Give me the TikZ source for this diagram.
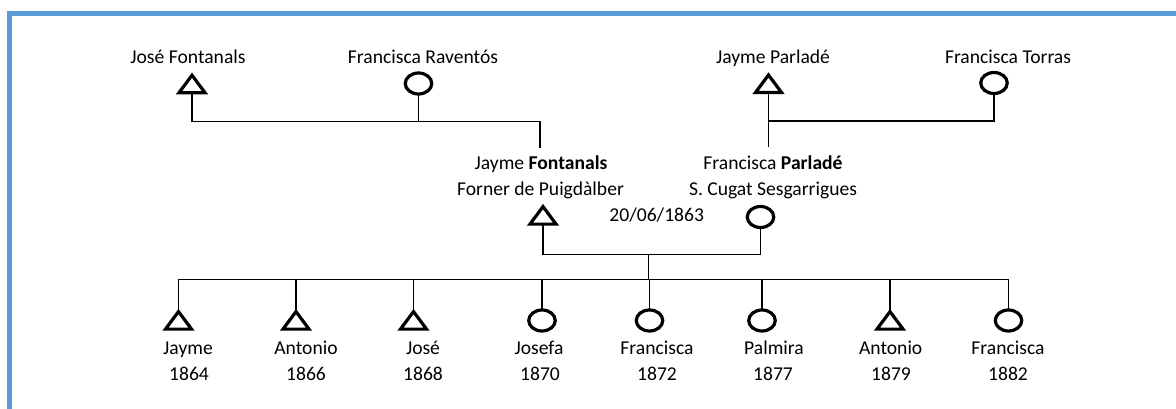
\documentclass[tikz,border=0pt]{standalone}
\usepackage{fontspec}
\setmainfont{Carlito}
\usetikzlibrary{shapes.geometric}
\definecolor{framecol}{HTML}{5B9BD5}
\tikzset{
  link/.style={line width=1.5pt, black},
  male/.style={rectangle, minimum width=26pt, minimum height=17.5pt, inner sep=0pt, outer sep=0pt},
  malemark/.style={draw, line width=3.2pt, line join=miter},
  female/.style={ellipse, minimum width=26.5pt, minimum height=21pt, draw, line width=3.2pt,
    inner sep=0pt, outer sep=0pt},
  lbl/.style={inner sep=0pt, anchor=base, font=\fontsize{19.6}{26}\selectfont},
  framebar/.style={line width=4.5pt, framecol},
}
\begin{document}
\begin{tikzpicture}[x=1pt, y=-1pt]
\useasboundingbox (0,0) rectangle (1176,409);
\draw[framebar] (9.5,415) -- (9.5,13.7) -- (1185,13.7);

% grandparents
\node[lbl] (tjf) at (188,63.5) {José Fontanals};
\node[lbl] (tfr) at (423,63.5) {Francisca Raventós};
\node[lbl] (tjp) at (773,63.5) {Jayme Parladé};
\node[lbl] (tft) at (1008,63.5) {Francisca Torras};
\node[male, anchor=south] (jf) at (192,92.7) {};
\node[female] (fr) at (418.5,83.5) {};
\node[male, anchor=south] (jp) at (768.5,92.5) {};
\node[female] (ft) at (994,83) {};

% parents
\node[lbl] (tja) at (541,169.5) {Jayme \textbf{Fontanals}};
\node[lbl] (tjb) at (540.5,195.5) {Forner de Puigdàlber};
\node[lbl] (tfa) at (773,169.5) {Francisca \textbf{Parladé}};
\node[lbl] (tfb) at (773,195.5) {S. Cugat Sesgarrigues};
\node[lbl] (tdate) at (656.7,221.7) {20/06/1863};
\node[male, anchor=south] (ja) at (543,224.1) {};
\node[female] (fa) at (760.5,217) {};

% children symbols
\node[male, anchor=south] (c1) at (178.5,329.1) {};
\node[male, anchor=south] (c2) at (296,329.1) {};
\node[male, anchor=south] (c3) at (413.5,329.1) {};
\node[female] (c4) at (542,320.5) {};
\node[female] (c5) at (649.5,320.5) {};
\node[female] (c6) at (762,320.5) {};
\node[male, anchor=south] (c7) at (890,329.1) {};
\node[female] (c8) at (1008.5,320.5) {};

% triangle outlines for the male symbols
\foreach \n in {jf,jp,ja,c1,c2,c3,c7}
  \draw[malemark] (\n.south west) -- (\n.south east) -- (\n.north) -- cycle;

% children labels
\node[lbl] (n1) at (188,354) {Jayme};      \node[lbl] (y1) at (189,380) {1864};
\node[lbl] (n2) at (306,354) {Antonio};    \node[lbl] (y2) at (306,380) {1866};
\node[lbl] (n3) at (423,354) {José};       \node[lbl] (y3) at (423,380) {1868};
\node[lbl] (n4) at (539,354) {Josefa};     \node[lbl] (y4) at (540,380) {1870};
\node[lbl] (n5) at (657,354) {Francisca};  \node[lbl] (y5) at (657,380) {1872};
\node[lbl] (n6) at (774,354) {Palmira};    \node[lbl] (y6) at (773,380) {1877};
\node[lbl] (n7) at (890.7,354) {Antonio};  \node[lbl] (y7) at (891,380) {1879};
\node[lbl] (n8) at (1008,354) {Francisca}; \node[lbl] (y8) at (1008,380) {1882};

% junction coordinates
\coordinate (m1) at (540,121.7);
\coordinate (jfup) at (540,148);
\coordinate (m2) at (768.5,121);
\coordinate (fpup) at (768.5,147);
\coordinate (m3) at (648.4,254.3);
\coordinate (m4) at (648.4,279.5);

% connectors
\draw[link] (jf.south) |- (m1) -- (jfup);
\draw[link] (fr.south) -- (fr.south |- m1);
\draw[link] (jp.south) -- (fpup);
\draw[link] (ft.south) |- (m2);
\draw[link] (ja.south) |- (m3) -| (fa.south);
\draw[link] (m3) -- (m4);
\draw[link] (c1.north) |- (m4) -| (c8.north);
\draw[link] (c2.north) -- (c2.north |- m4);
\draw[link] (c3.north) -- (c3.north |- m4);
\draw[link] (c4.north) -- (c4.north |- m4);
\draw[link] (c5.north) -- (c5.north |- m4);
\draw[link] (c6.north) -- (c6.north |- m4);
\draw[link] (c7.north) -- (c7.north |- m4);
\end{tikzpicture}
\end{document}
